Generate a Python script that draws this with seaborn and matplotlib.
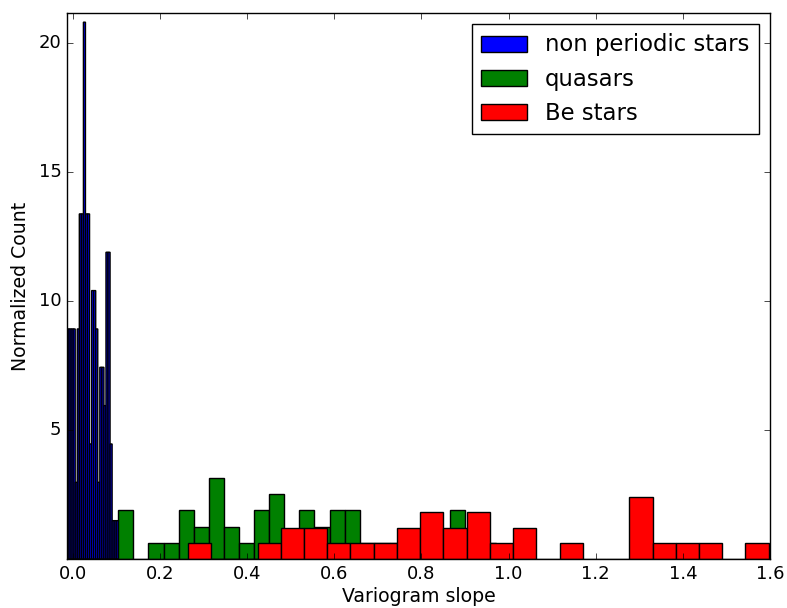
import numpy as np
import pandas as pd
import matplotlib
matplotlib.use("Agg")
import matplotlib.pyplot as plt
import seaborn as sns

# Bin ranges (variogram slope) and per-bin object counts, 25 bins per class
n_bins = 25
nonperiodic_range = (-0.0137, 0.104)
quasar_range = (0.104, 0.970)
be_range = (0.2637, 1.597)

nonperiodic_counts = [6, 6, 6, 6, 2, 6, 9, 9, 14, 9, 9, 3, 7, 7, 6, 2, 5, 5, 4, 8,
                      8, 3, 1, 1, 1]
quasar_counts = [3, 0, 1, 1, 3, 2, 5, 2, 1, 3, 4, 1, 3, 2, 3, 3, 1, 1, 1, 0,
                 1, 0, 3, 1, 1]
be_counts = [1, 0, 0, 1, 2, 2, 1, 1, 1, 2, 3, 2, 3, 1, 2, 0, 1, 0, 0, 4,
             1, 1, 1, 0, 1]

labels = ["non periodic stars", "quasars", "Be stars"]
colors = ["#0000ff", "#008000", "#ff0000"]
snap_bars = [False, True, True]

xticks = [0.0, 0.2, 0.4, 0.6, 0.8, 1.0, 1.2, 1.4, 1.6]
yticks = [5, 10, 15, 20]

plt.style.use("classic")
fig = plt.figure(figsize=(7.87, 6.08), dpi=100, facecolor="white")
ax = fig.add_axes([67 / 787, 49 / 608, 703 / 787, 546 / 608])
ax.set_facecolor("white")

for rng, counts, label, color, snap in zip(
        [nonperiodic_range, quasar_range, be_range],
        [nonperiodic_counts, quasar_counts, be_counts], labels, colors, snap_bars):
    edges = np.linspace(rng[0], rng[1], n_bins + 1)
    df = pd.DataFrame({"slope": 0.5 * (edges[:-1] + edges[1:]),
                       "count": np.asarray(counts, dtype=float)})
    n_before = len(ax.patches)
    sns.histplot(data=df, x="slope", weights="count", bins=edges.tolist(),
                 stat="density", color=color, facecolor=color, edgecolor="black",
                 linewidth=1.0, alpha=1.0, label=label, ax=ax)
    # very narrow bars are drawn without pixel snapping so each one stays visible
    if not snap:
        for p in ax.patches[n_before:]:
            p.set_snap(False)

ax.set_xlim(nonperiodic_range[0], be_range[1])
ax.set_ylim(0, 21.15)
ax.set_xticks(xticks)
ax.set_xticklabels([f"{t:.1f}" for t in xticks])
ax.set_yticks(yticks)
ax.set_xlabel("Variogram slope", fontsize=13.6, labelpad=3)
ax.set_ylabel("Normalized Count", fontsize=13.6, labelpad=6)
ax.tick_params(labelsize=13)

leg = ax.legend(loc="upper right", fontsize=16.4, frameon=True, fancybox=False,
                shadow=False, borderaxespad=0.5, borderpad=0.4,
                handlelength=2.0, handleheight=0.7, labelspacing=0.5,
                handletextpad=0.8)
leg.get_frame().set_edgecolor("black")
leg.get_frame().set_linewidth(1.0)

fig.savefig("out.png", dpi=100, facecolor="white")
